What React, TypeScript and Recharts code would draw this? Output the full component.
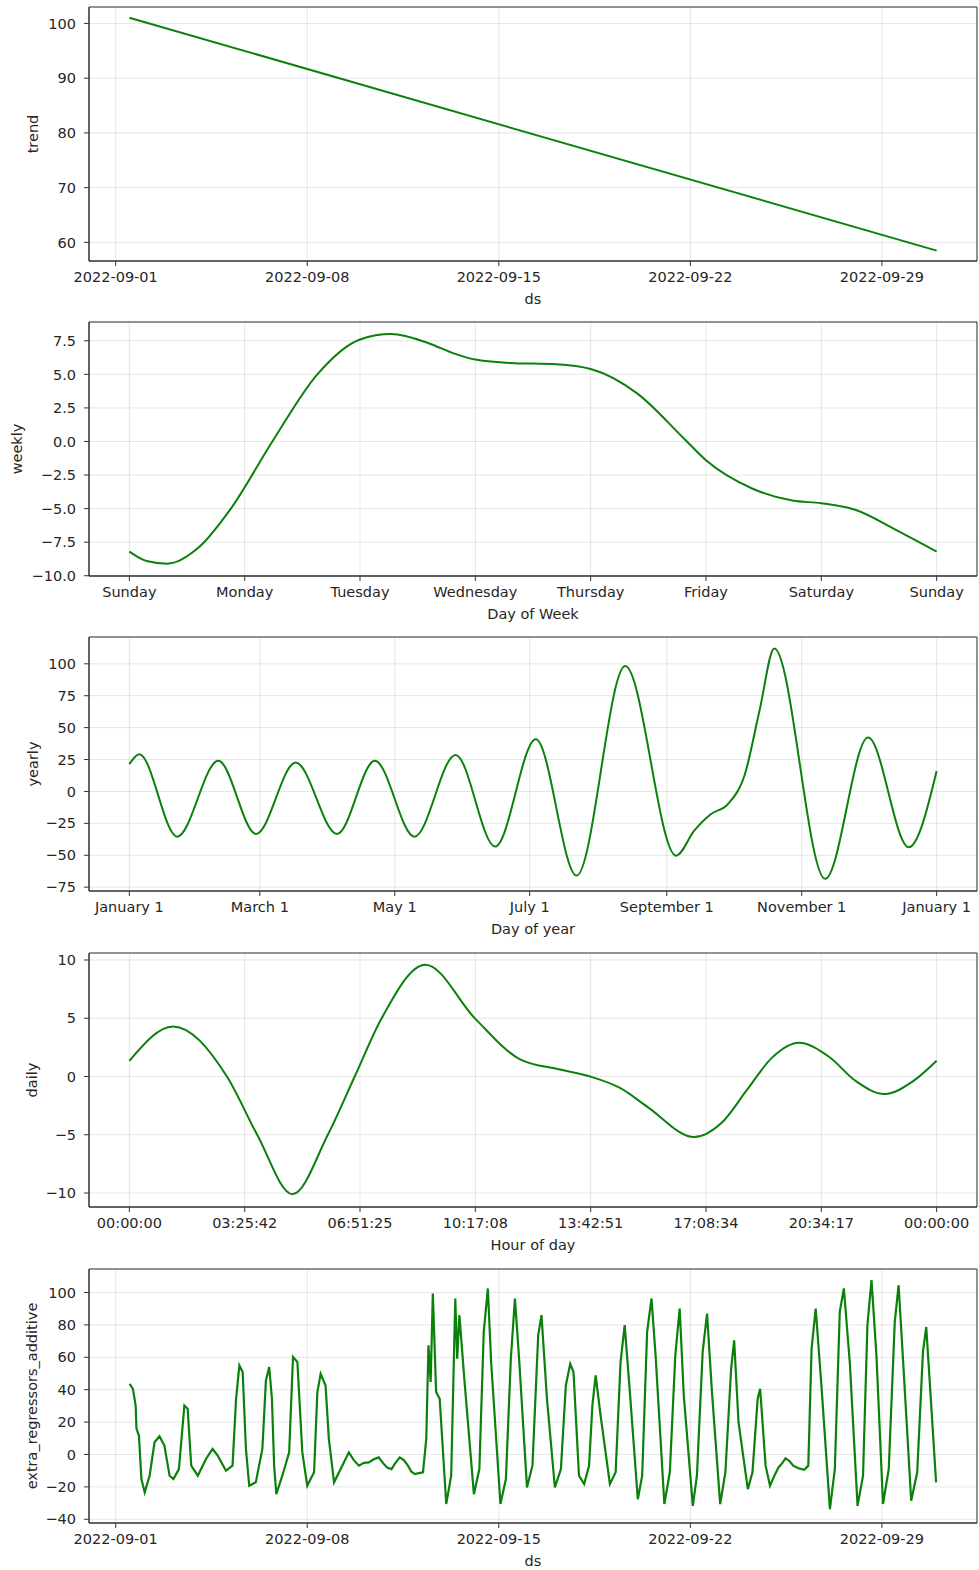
import { CartesianGrid, Line, LineChart, ReferenceArea, XAxis, YAxis } from "recharts";

// trend (days since 2022-09-01)
const trendDays = [0.5, 30];
const trendValues = [101.05, 58.5];

// weekly seasonality (days since Sunday)
const weeklyDays = [0, 0.15, 0.33, 0.6, 0.88, 1.24, 1.63, 2.0, 2.27, 2.6, 2.8, 3.0, 3.3, 3.7, 4.0, 4.4, 4.8, 5.0, 5.4, 5.75, 6.0, 6.3, 6.65, 7.0];
const weeklyValues = [-8.2, -8.9, -9.1, -7.9, -5.0, 0.0, 5.0, 7.6, 8.0, 7.3, 6.6, 6.1, 5.85, 5.75, 5.4, 3.6, 0.3, -1.4, -3.5, -4.4, -4.6, -5.1, -6.6, -8.2];
const weekdayLabels = ["Sunday", "Monday", "Tuesday", "Wednesday", "Thursday", "Friday", "Saturday", "Sunday"];

// yearly seasonality (day of year)
const yearlyDays = [0, 4.5, 21.6, 40.2, 57.3, 75.2, 93.9, 111, 128.9, 147.5, 165.4, 183.8, 202.2, 224.2, 247.2, 255.4, 263, 270.6, 278.3, 285, 291.6, 314.6, 334, 352.4, 365];
const yearlyValues = [21.4, 29.2, -35.4, 24, -33.3, 22.7, -33.3, 24, -35.4, 28.6, -43.2, 40.9, -65.9, 98.2, -50.3, -30.7, -17.7, -9.9, 13.5, 64, 112, -68.5, 42.2, -43.7, 16.1];
const monthTicks = [0, 59, 120, 181, 243, 304, 365];
const monthLabels = ["January 1", "March 1", "May 1", "July 1", "September 1", "November 1", "January 1"];

// daily seasonality (hour of day)
const dailyHours = [0, 1.3, 2.9, 3.8, 4.85, 5.9, 6.7, 7.5, 8.8, 10.3, 11.6, 12.8, 13.7, 14.6, 15.4, 16.8, 17.6, 18.35, 19.1, 19.9, 20.8, 21.6, 22.45, 23.3, 24];
const dailyValues = [1.35, 4.3, 0.0, -5.0, -10.1, -5.0, 0.0, 5.0, 9.6, 4.9, 1.5, 0.6, 0.0, -1.0, -2.6, -5.2, -4.0, -1.2, 1.6, 2.9, 1.7, -0.4, -1.5, -0.4, 1.35];
const hourTicks = [0, 3.4286, 6.8571, 10.2857, 13.7143, 17.1429, 20.5714, 24];
const hourLabels = ["00:00:00", "03:25:42", "06:51:25", "10:17:08", "13:42:51", "17:08:34", "20:34:17", "00:00:00"];

// extra regressors (days since 2022-09-01)
const regressorDays = [
  0.51, 0.63, 0.73, 0.76, 0.85, 0.94, 1.06, 1.24, 1.42, 1.6, 1.78, 1.97, 2.11, 2.31, 2.51, 2.63, 2.76, 3.0, 3.3, 3.54,
  3.73, 4.03, 4.27, 4.4, 4.52, 4.64, 4.76, 4.88, 5.12, 5.36, 5.49, 5.61, 5.71, 5.79, 5.87, 6.09, 6.34, 6.48, 6.64, 6.82,
  7.0, 7.25, 7.37, 7.49, 7.67, 7.79, 7.98, 8.28, 8.52, 8.7, 8.89, 9.07, 9.25, 9.43, 9.61, 9.78, 9.92, 10.08, 10.23, 10.38,
  10.53, 10.68, 10.8, 10.93, 11.08, 11.23, 11.35, 11.43,
  11.51, 11.59, 11.71, 11.84, 12.08, 12.26, 12.41, 12.48, 12.56, 12.75, 13.09, 13.29, 13.45, 13.6, 13.72, 14.06, 14.26, 14.44, 14.59, 14.75,
  15.03, 15.23, 15.44, 15.56, 15.76, 16.05, 16.27, 16.45, 16.61, 16.73, 16.93, 17.12, 17.3, 17.42, 17.54, 17.72, 18.06, 18.27, 18.45, 18.6,
  18.79, 19.08, 19.24, 19.42, 19.58, 19.73, 20.05, 20.25, 20.45, 20.61, 20.76, 21.09, 21.24, 21.45, 21.61, 21.79, 22.09, 22.28, 22.49, 22.6,
  22.76, 23.1, 23.27, 23.46, 23.55, 23.75, 23.91, 24.06, 24.22, 24.35, 24.48, 24.62, 24.76, 24.95, 25.16, 25.31, 25.43, 25.58, 25.79, 26.1, 26.28, 26.46, 26.61, 26.83,
  27.11, 27.31, 27.47, 27.62, 27.8, 28.04, 28.25, 28.47, 28.61, 28.77, 29.07, 29.29, 29.5, 29.62, 29.71, 29.98,
];
const regressorValues = [
  43.6, 40.5, 30.2, 15.8, 11.7, -15.2, -23.4, -13.1, 7.5, 11.2, 5.5, -13.1, -15.2, -9.0, 30.2, 28.2, -6.9, -13.1, -2.8, 3.4,
  -0.7, -10.0, -6.9, 34.4, 55.0, 50.9, 3.4, -19.3, -17.2, 3.4, 45.7, 54.0, 34.4, -6.9, -24.5, -13.1, 1.3, 60.2, 57.1, 1.3,
  -19.3, -11.0, 38.5, 49.8, 42.6, 9.6, -17.2, -6.9, 1.3, -3.5, -6.9, -5.2, -4.9, -3.0, -1.8, -5.5, -8.0, -9.0, -5.0, -1.8,
  -3.5, -6.9, -10.5, -12.1, -11.5, -11.0, 9.6, 67.4,
  44.7, 99.4, 38.5, 34.4, -30.6, -13.1, 96.3, 59.1, 86.0, 44.7, -24.5, -9.0, 75.6, 102.5, 57.1, -30.6, -15.2, 59.1, 96.3, 57.1,
  -20.3, -6.9, 73.6, 86.0, 34.4, -20.3, -9.0, 42.6, 56.0, 50.9, -13.1, -18.3, -6.9, 30.2, 48.8, 24.0, -18.3, -11.0, 57.1, 79.8,
  38.5, -27.6, -13.1, 75.6, 96.3, 61.2, -30.6, -11.0, 61.2, 90.1, 36.4, -31.7, -13.1, 63.3, 87.0, 38.5, -30.6, -11.0, 52.9, 70.5,
  19.9, -21.4, -11.0, 34.4, 40.5, -6.9, -19.3, -13.5, -8.0, -5.5, -2.4, -4.0, -6.9, -8.5, -9.4, -6.9, 65.3, 90.1, 42.6, -33.7, -9.0, 88.0, 102.5, 56.0,
  -31.7, -13.1, 79.8, 107.6, 61.2, -30.6, -9.0, 81.8, 104.5, 59.1, -28.6, -11.0, 63.3, 78.7, 55.0, -17.2,
];

const dateTicks = [0, 7, 14, 21, 28];
const dateLabels = ["2022-09-01", "2022-09-08", "2022-09-15", "2022-09-22", "2022-09-29"];

const GREEN = "#0b800b";
const INK = "#262626";
const FONT = 14.5;

type PanelProps = {
  top: number;
  xs: number[];
  ys: number[];
  xDomain: [number, number];
  xTicks: number[];
  xLabels: string[];
  yDomain: [number, number];
  yTicks: number[];
  yDecimals: number;
  xTitle: string;
  yTitle: string;
  yTitleX: number;
  curve: "linear" | "monotone";
  width?: number;
};

const fmt = (v: number, d: number) => v.toFixed(d).replace("-", "\u2212");

function Panel(p: PanelProps) {
  const data = p.xs.map((x, i) => ({ x, y: p.ys[i] }));
  return (
    <div style={{ position: "absolute", left: 0, top: p.top }}>
      <LineChart width={979} height={316} data={data} margin={{ top: 7, right: 2, bottom: 0, left: 0 }}>
        <CartesianGrid stroke="#808080" strokeOpacity={0.2} />
        <XAxis
          dataKey="x"
          type="number"
          domain={p.xDomain}
          ticks={p.xTicks}
          allowDataOverflow
          interval={0}
          height={55}
          tickSize={5}
          tickMargin={6}
          stroke="#333"
          tick={{ fill: INK, fontSize: FONT }}
          tickFormatter={(_v: number, i: number) => p.xLabels[i]}
          label={{ value: p.xTitle, position: "insideBottom", offset: 12, fill: INK, fontSize: FONT }}
        />
        <YAxis
          type="number"
          domain={p.yDomain}
          ticks={p.yTicks}
          allowDataOverflow
          interval={0}
          width={89}
          tickSize={5}
          tickMargin={8}
          stroke="#333"
          tick={{ fill: INK, fontSize: FONT }}
          tickFormatter={(v: number) => fmt(v, p.yDecimals)}
          label={{
            value: p.yTitle,
            angle: -90,
            position: "insideLeft",
            offset: p.yTitleX,
            fill: INK,
            fontSize: FONT,
            style: { textAnchor: "middle" },
          }}
        />
        <Line
          dataKey="y"
          type={p.curve}
          stroke={GREEN}
          strokeWidth={p.width ?? 2}
          dot={false}
          activeDot={false}
          isAnimationActive={false}
        />
        <ReferenceArea
          x1={p.xDomain[0]}
          x2={p.xDomain[1]}
          y1={p.yDomain[0]}
          y2={p.yDomain[1]}
          fill="none"
          stroke="#333"
          strokeWidth={1}
          ifOverflow="visible"
        />
      </LineChart>
    </div>
  );
}

export default function App() {
  return (
    <div
      style={{
        position: "absolute",
        left: 0,
        top: 0,
        width: 979,
        height: 1570,
        background: "#fff",
        fontFamily: "'DejaVu Sans', sans-serif",
      }}
    >
      <Panel
        top={0}
        xs={trendDays}
        ys={trendValues}
        xDomain={[-0.975, 31.475]}
        xTicks={dateTicks}
        xLabels={dateLabels}
        yDomain={[56.6, 103.0]}
        yTicks={[60, 70, 80, 90, 100]}
        yDecimals={0}
        xTitle="ds"
        yTitle="trend"
        yTitleX={33}
        curve="linear"
      />
      <Panel
        top={315}
        xs={weeklyDays}
        ys={weeklyValues}
        xDomain={[-0.35, 7.35]}
        xTicks={[0, 1, 2, 3, 4, 5, 6, 7]}
        xLabels={weekdayLabels}
        yDomain={[-10.02, 8.9]}
        yTicks={[-10, -7.5, -5, -2.5, 0, 2.5, 5, 7.5]}
        yDecimals={1}
        xTitle="Day of Week"
        yTitle="weekly"
        yTitleX={17}
        curve="monotone"
      />
      <Panel
        top={630}
        xs={yearlyDays}
        ys={yearlyValues}
        xDomain={[-18.25, 383.25]}
        xTicks={monthTicks}
        xLabels={monthLabels}
        yDomain={[-78, 121]}
        yTicks={[-75, -50, -25, 0, 25, 50, 75, 100]}
        yDecimals={0}
        xTitle="Day of year"
        yTitle="yearly"
        yTitleX={33}
        curve="monotone"
      />
      <Panel
        top={946}
        xs={dailyHours}
        ys={dailyValues}
        xDomain={[-1.2, 25.2]}
        xTicks={hourTicks}
        xLabels={hourLabels}
        yDomain={[-11.2, 10.6]}
        yTicks={[-10, -5, 0, 5, 10]}
        yDecimals={0}
        xTitle="Hour of day"
        yTitle="daily"
        yTitleX={32}
        curve="monotone"
      />
      <Panel
        top={1262}
        xs={regressorDays}
        ys={regressorValues}
        xDomain={[-0.975, 31.475]}
        xTicks={dateTicks}
        xLabels={dateLabels}
        yDomain={[-42.3, 114.5]}
        yTicks={[-40, -20, 0, 20, 40, 60, 80, 100]}
        yDecimals={0}
        xTitle="ds"
        yTitle="extra_regressors_additive"
        yTitleX={32}
        curve="linear"
        width={2.2}
      />
    </div>
  );
}
